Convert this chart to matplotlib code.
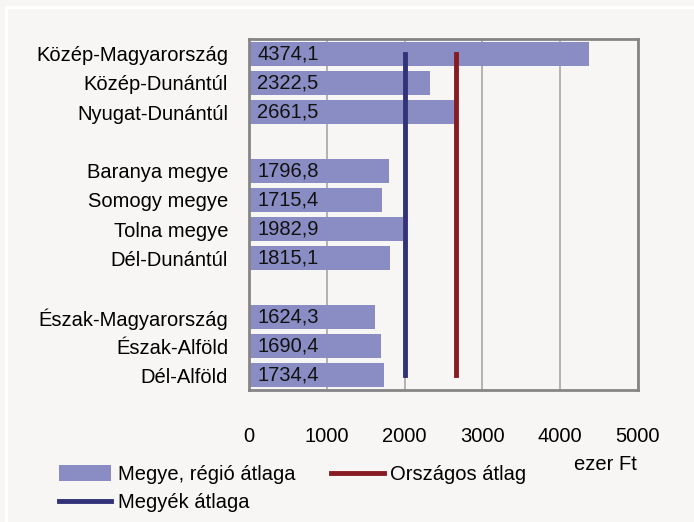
import matplotlib
matplotlib.use('Agg')
import matplotlib.pyplot as plt
from matplotlib import font_manager
from matplotlib.patches import Patch, Rectangle
from matplotlib.lines import Line2D

# data (ezer Ft)
group1 = ['Közép-Magyarország', 'Közép-Dunántúl', 'Nyugat-Dunántúl']
group1_vals = [4374.1, 2322.5, 2661.5]
group2 = ['Baranya megye', 'Somogy megye', 'Tolna megye', 'Dél-Dunántúl']
group2_vals = [1796.8, 1715.4, 1982.9, 1815.1]
group3 = ['Észak-Magyarország', 'Észak-Alföld', 'Dél-Alföld']
group3_vals = [1624.3, 1690.4, 1734.4]

orszagos_atlag = 2662
megyek_atlaga = 2003

xticks = [0, 1000, 2000, 3000, 4000, 5000]

names = [f.name for f in font_manager.fontManager.ttflist]
fam = 'Liberation Sans Narrow' if 'Liberation Sans Narrow' in names else 'Liberation Sans'
plt.rcParams['font.family'] = [fam, 'DejaVu Sans']
fs = 14.5

bg = '#f7f6f4'
bar_col = '#8a8dc4'
blue = '#323278'
red = '#861c22'

# y positions with an empty slot between groups
labels, vals, ypos = [], [], []
y = 0
for g, v in [(group1, group1_vals), (group2, group2_vals), (group3, group3_vals)]:
    for name, val in zip(g, v):
        labels.append(name)
        vals.append(val)
        ypos.append(y)
        y += 1
    y += 1
n_slots = y - 1

fig = plt.figure(figsize=(6.94, 5.22), dpi=100, facecolor=bg)
fig.patches.append(Rectangle((6/694, -0.1), 2, 1.1 - 7/522, transform=fig.transFigure,
                             fill=False, edgecolor='white', linewidth=2))

ax = fig.add_axes([249/694, 1 - 390/522, 389/694, 351/522])
ax.set_facecolor(bg)

ax.barh(ypos, vals, height=0.82, color=bar_col, zorder=2)
for yy, v in zip(ypos, vals):
    ax.annotate(('%.1f' % v).replace('.', ','), (0, yy), xytext=(6, 0),
                textcoords='offset points', va='center', ha='left',
                fontsize=fs, color='#111111', zorder=4)

ax.plot([megyek_atlaga, megyek_atlaga], [ypos[0], ypos[-1]], color=blue, lw=3.5, zorder=3)
ax.plot([orszagos_atlag, orszagos_atlag], [ypos[0], ypos[-1]], color=red, lw=3.5, zorder=3)

ax.set_xlim(0, 5000)
ax.set_ylim(n_slots - 0.5, -0.5)
ax.set_xticks(xticks)
ax.set_xticklabels([str(t) for t in xticks], fontsize=fs)
ax.set_yticks(ypos)
ax.set_yticklabels(labels, fontsize=fs)
ax.tick_params(axis='x', length=0, pad=27)
ax.tick_params(axis='y', length=0, pad=15)
ax.xaxis.grid(True, color='#a6a6a6', lw=1.2, zorder=1)
for s in ax.spines.values():
    s.set_color('#858585')
    s.set_linewidth(2)

fig.text(637/694, 1 - 464/522, 'ezer Ft', ha='right', va='center', fontsize=fs)

handles = [Patch(facecolor=bar_col, edgecolor='none'),
           Line2D([], [], color=blue, lw=3.5),
           Line2D([], [], color=red, lw=3.5)]
leg_labels = ['Megye, régió átlaga', 'Megyék átlaga', 'Országos átlag']
fig.legend(handles, leg_labels, ncol=2, loc='upper left',
           bbox_to_anchor=(45/694, 1 - 451/522), frameon=False, fontsize=fs,
           handlelength=2.6, handleheight=0.85, handletextpad=0.3,
           columnspacing=1.8, labelspacing=0.45, borderpad=0.2)

fig.savefig('out.png', dpi=100, facecolor=bg)
